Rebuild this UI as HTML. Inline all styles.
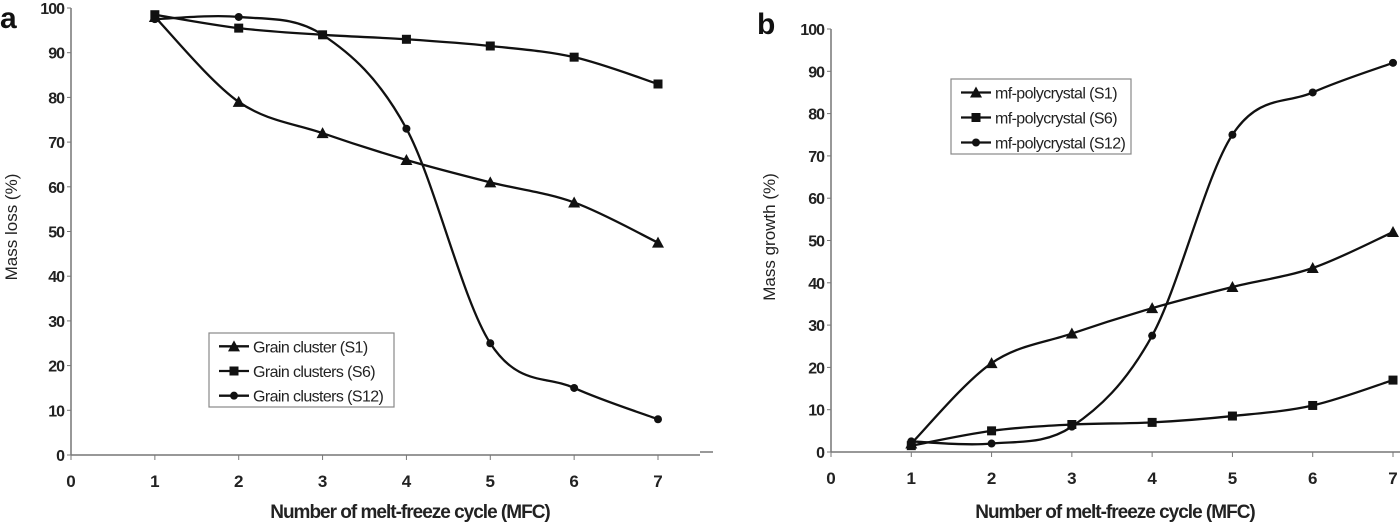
<!DOCTYPE html>
<html><head><meta charset="utf-8"><style>
body{margin:0;background:#fff;}
svg{display:block;font-family:"Liberation Sans",Arial,sans-serif;}
</style></head><body>
<svg id="c" width="1400" height="523"></svg>
<script>
const xCats=[0,1,2,3,4,5,6,7];
const yTicks=[0,10,20,30,40,50,60,70,80,90,100];
const aS1=[98,79,72,66,61,56.5,47.5];
const aS6=[98.5,95.5,94,93,91.5,89,83];
const aS12=[97.5,98,94,73,25,15,8];
const bS1=[2,21,28,34,39,43.5,52];
const bS6=[1.5,5,6.5,7,8.5,11,17];
const bS12=[2.5,2,6,27.5,75,85,92];
const aNames=["Grain cluster (S1)","Grain clusters (S6)","Grain clusters (S12)"];
const bNames=["mf-polycrystal (S1)","mf-polycrystal (S6)","mf-polycrystal (S12)"];
const NS="http://www.w3.org/2000/svg";
const svg=document.getElementById('c');
function mk(t,a,p){const e=document.createElementNS(NS,t);for(const k in a)e.setAttribute(k,a[k]);(p||svg).appendChild(e);return e;}
function marker(g,type,x,y){
  let m;
  if(type==0)m=mk('polygon',{points:`${x},${y-6} ${x-6},${y+5} ${x+6},${y+5}`,fill:'#111'},g);
  else if(type==1)m=mk('rect',{x:x-4.5,y:y-4.5,width:9,height:9,fill:'#111'},g);
  else m=mk('circle',{cx:x,cy:y,r:4,fill:'#111'},g);
  
  
}
function smooth(pts){
  let d=`M${pts[0][0]},${pts[0][1]}`;
  for(let i=0;i<pts.length-1;i++){
    const p0=pts[Math.max(i-1,0)],p1=pts[i],p2=pts[i+1],p3=pts[Math.min(i+2,pts.length-1)];
    const t=0.5/3;
    d+=` C${p1[0]+(p2[0]-p0[0])*t},${p1[1]+(p2[1]-p0[1])*t} ${p2[0]-(p3[0]-p1[0])*t},${p2[1]-(p3[1]-p1[1])*t} ${p2[0]},${p2[1]}`;
  }
  return d;
}
function chart(o){
  const g=mk('g',{});
  
  
  const X=v=>o.x0+(o.x7-o.x0)*v/7, Y=v=>o.y0+(o.y100-o.y0)*v/100;
  mk('line',{x1:o.x0,y1:o.y0,x2:o.xEnd,y2:o.y0,stroke:'#777','stroke-width':1.5},g);
  mk('line',{x1:o.x0,y1:o.y0,x2:o.x0,y2:o.y100,stroke:'#777','stroke-width':1.5},g);
  yTicks.forEach(v=>{
    mk('line',{x1:o.x0-4,y1:Y(v),x2:o.x0,y2:Y(v),stroke:'#777'},g);
    const t=mk('text',{x:o.x0-7,y:Y(v)+6,'text-anchor':'end','font-size':16,'font-weight':'bold',fill:'#222','letter-spacing':'-1'},g);t.textContent=v;
    
  });
  xCats.forEach(v=>{
    mk('line',{x1:X(v),y1:o.y0,x2:X(v),y2:o.y0+5,stroke:'#777'},g);
    const t=mk('text',{x:X(v),y:o.y0+32,'text-anchor':'middle','font-size':17,'font-weight':'bold',fill:'#222'},g);t.textContent=v;
    
  });
  const xt=mk('text',{x:o.xtx,y:518,'text-anchor':'middle','font-size':19,'font-weight':'bold',fill:'#222','letter-spacing':'-1'},g);xt.textContent='Number of melt-freeze cycle (MFC)';
  
  const yt=mk('text',{x:0,y:0,'text-anchor':'middle','font-size':17,fill:'#222',transform:`translate(${o.ytx},${o.yty}) rotate(-90)`},g);yt.textContent=o.ytitle;
  
  const pl=mk('text',{x:o.lx,y:o.ly,'font-size':30,'font-weight':'bold',fill:'#111'},g);pl.textContent=o.letter;
  
  o.series.forEach((s,k)=>{
    const pts=s.map((v,i)=>[X(i+1),Y(v)]);
    const p=mk('path',{d:smooth(pts),fill:'none',stroke:'#111','stroke-width':2.3},g);
    
    pts.forEach(q=>marker(g,k,q[0],q[1]));
  });
  const L=o.leg;
  const lg=mk('g',{},g);
  mk('rect',{x:L.x,y:L.y,width:L.w,height:L.h,fill:'#fff',stroke:'#888','stroke-width':1.2},lg);
  o.names.forEach((n,k)=>{
    const yy=L.y+L.h*(k+0.5)/3+1;
    mk('line',{x1:L.x+10,y1:yy,x2:L.x+40,y2:yy,stroke:'#111','stroke-width':2.3},lg);
    marker(lg,k,L.x+25,yy);
    const t=mk('text',{x:L.x+44,y:yy+6,'font-size':16,fill:'#222','letter-spacing':'-0.6'},lg);t.textContent=n;
    
  });
}
chart({name:'chart-a',x0:71,x7:658,xEnd:700,y0:455,y100:8,xtx:410,ytx:17,yty:227,ytitle:'Mass loss (%)',letter:'a',lx:0,ly:28,series:[aS1,aS6,aS12],names:aNames,leg:{x:209,y:333,w:185,h:74}});
chart({name:'chart-b',x0:831,x7:1393,xEnd:1400,y0:452,y100:29,xtx:1115,ytx:775,yty:237,ytitle:'Mass growth (%)',letter:'b',lx:757,ly:34,series:[bS1,bS6,bS12],names:bNames,leg:{x:951,y:79,w:180,h:75}});
mk('line',{x1:700,y1:452,x2:713,y2:452,stroke:'#777','stroke-width':1.5});
</script>
</body></html>
